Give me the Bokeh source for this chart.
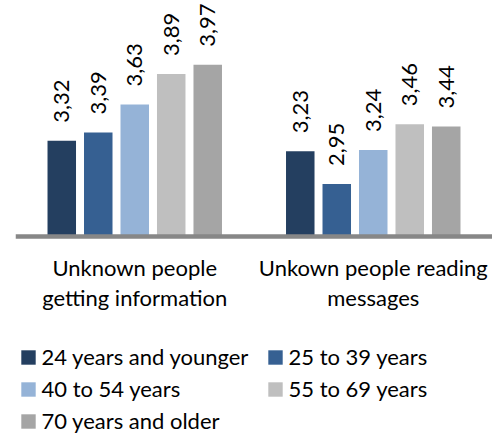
from math import pi
from bokeh.plotting import figure
from bokeh.models import FactorRange, Range1d, ColumnDataSource, Legend, LegendItem, Span
from bokeh.transform import dodge
from bokeh.core.properties import value
from bokeh.embed import file_html
from bokeh.resources import INLINE

categories = ["Unknown people\ngetting information", "Unkown people reading\nmessages"]
series = ["24 years and younger", "25 to 39 years", "40 to 54 years",
          "55 to 69 years", "70 years and older"]
v_24_younger = [3.32, 3.23]
v_25_39 = [3.39, 2.95]
v_40_54 = [3.63, 3.24]
v_55_69 = [3.89, 3.46]
v_70_older = [3.97, 3.44]
values = [v_24_younger, v_25_39, v_40_54, v_55_69, v_70_older]
colors = ["#243F60", "#366092", "#95B3D7", "#BFBFBF", "#A5A5A5"]

FONT = "Lato"
FS = "22px"
BASE = 2.5

p = figure(x_range=FactorRange(*categories), y_range=Range1d(0.806, 4.519),
           width=492, height=434, output_backend="svg", toolbar_location=None,
           min_border_left=15, min_border_right=0, min_border_top=0, min_border_bottom=0)
p.outline_line_color = None
p.grid.visible = False
p.axis.visible = False

step = 0.153
bw = 0.1195
items = []
for i, (name, vals, col) in enumerate(zip(series, values, colors)):
    off = (i - 2) * step
    src = ColumnDataSource(dict(cat=categories, val=vals,
                                lab=[f"{v:.2f}".replace(".", ",") for v in vals]))
    r = p.vbar(x=dodge("cat", off, range=p.x_range), top="val", bottom=BASE,
               width=bw, source=src, fill_color=col, line_color=None)
    p.text(x=dodge("cat", off, range=p.x_range), y="val", text="lab", source=src,
           angle=pi / 2, text_align="left", text_baseline="middle",
           x_offset=0, y_offset=-18, text_font=value(FONT), text_font_size=FS,
           text_color="#000000")
    items.append(LegendItem(label=name, renderers=[r]))

# category axis: baseline line and category labels
p.add_layout(Span(location=BASE, dimension="width", line_color="#878787", line_width=4.5))
p.text(x=categories, y=[BASE] * len(categories), text=categories,
       text_align="center", text_baseline="top", y_offset=18,
       text_font=value(FONT), text_font_size=FS, text_line_height=1.1,
       text_color="#000000")

# column-major fill: reorder so rows read 24|25, 40|55, 70
order = [0, 2, 4, 1, 3]
legend = Legend(items=[items[k] for k in order], ncols=2, location=(3.5, 0),
                glyph_width=18, glyph_height=18, label_standoff=5,
                label_width=219, label_height=25,
                label_text_font=FONT, label_text_font_size=FS,
                label_text_color="#000000", spacing=5, margin=0, padding=6,
                border_line_color=None, background_fill_alpha=0)
p.add_layout(legend, "center")

open("out.html", "w").write(file_html(p, INLINE))
